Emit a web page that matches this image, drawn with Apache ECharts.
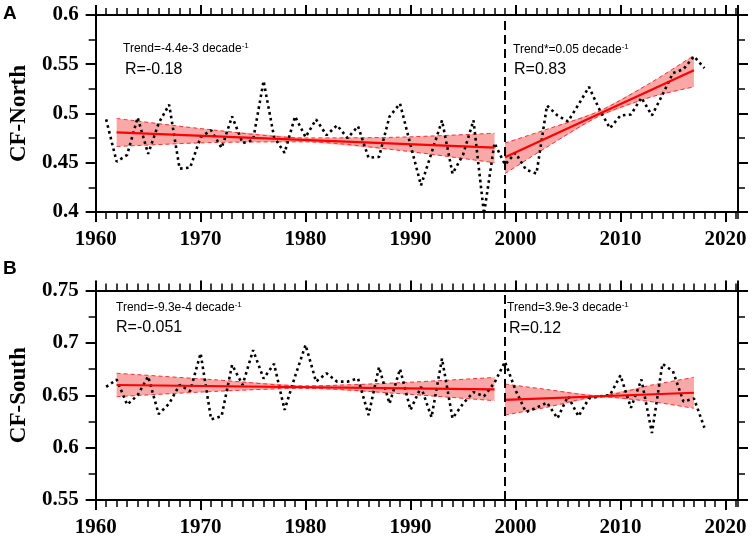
<!DOCTYPE html>
<html>
<head>
<meta charset="utf-8">
<title>CF North / South</title>
<script src="https://cdn.jsdelivr.net/npm/echarts@6.0.0/dist/echarts.min.js"></script>
<style>
	html, body { margin: 0; padding: 0; background: #fff; }
	#chart { width: 754px; height: 538px; }
</style>
</head>
<body>
<div id="chart"></div>
<script>
// --- data ---
const years = [1961, 1962, 1963, 1964, 1965, 1966, 1967, 1968, 1969, 1970,
	1971, 1972, 1973, 1974, 1975, 1976, 1977, 1978, 1979, 1980,
	1981, 1982, 1983, 1984, 1985, 1986, 1987, 1988, 1989, 1990,
	1991, 1992, 1993, 1994, 1995, 1996, 1997, 1998, 1999, 2000,
	2001, 2002, 2003, 2004, 2005, 2006, 2007, 2008, 2009, 2010,
	2011, 2012, 2013, 2014, 2015, 2016, 2017, 2018];

const cfNorth = [0.494, 0.451, 0.458, 0.496, 0.459, 0.490, 0.509, 0.444, 0.445, 0.476,
	0.483, 0.465, 0.497, 0.470, 0.473, 0.533, 0.476, 0.460, 0.497, 0.476,
	0.494, 0.478, 0.488, 0.475, 0.487, 0.455, 0.456, 0.497, 0.510, 0.468,
	0.427, 0.460, 0.493, 0.439, 0.458, 0.493, 0.398, 0.470, 0.448, 0.460,
	0.443, 0.439, 0.508, 0.498, 0.492, 0.509, 0.527, 0.504, 0.485, 0.498,
	0.499, 0.516, 0.498, 0.519, 0.541, 0.545, 0.558, 0.546];

const cfSouth = [0.658, 0.665, 0.641, 0.650, 0.668, 0.632, 0.642, 0.660, 0.654, 0.690,
	0.627, 0.630, 0.679, 0.660, 0.693, 0.666, 0.680, 0.636, 0.668, 0.698,
	0.663, 0.671, 0.663, 0.663, 0.666, 0.631, 0.677, 0.642, 0.675, 0.636,
	0.658, 0.629, 0.685, 0.628, 0.642, 0.653, 0.649, 0.662, 0.682, 0.655,
	0.634, 0.638, 0.643, 0.628, 0.649, 0.630, 0.647, 0.649, 0.650, 0.669,
	0.638, 0.665, 0.614, 0.680, 0.673, 0.644, 0.647, 0.619];

// trend segments: end points of the fitted lines
const trendYears1 = [1962, 1998];
const trendYears2 = [1999, 2017];
const northTrend1 = [0.4809, 0.4653];
const northTrend2 = [0.4555, 0.5440];
const southTrend1 = [0.6598, 0.6557];
const southTrend2 = [0.6455, 0.6524];

// confidence bands, read at a few years along each segment
const bandYears1 = [1962, 1971, 1980, 1989, 1998];
const bandYears2 = [1999, 2003, 2008, 2013, 2017];
const northUpper1 = [0.4950, 0.4835, 0.4752, 0.4760, 0.4800];
const northLower1 = [0.4665, 0.4705, 0.4712, 0.4625, 0.4500];
const northUpper2 = [0.4700, 0.4840, 0.5025, 0.5320, 0.5590];
const northLower2 = [0.4390, 0.4660, 0.4975, 0.5170, 0.5270];
const southUpper1 = [0.6710, 0.6650, 0.6590, 0.6620, 0.6670];
const southLower1 = [0.6486, 0.6535, 0.6566, 0.6515, 0.6448];
const southUpper2 = [0.6607, 0.6555, 0.6495, 0.6598, 0.6671];
const southLower2 = [0.6311, 0.6385, 0.6485, 0.6438, 0.6375];

const breakYear = 1999;

( function() {

	const serif = 'Liberation Serif';
	const sans = 'Liberation Sans';

	const zip = (xs, ys) => xs.map((x, i) => [x, ys[i]]);

	// two axes stacked on the same side: one with yearly short ticks, one with decade ticks + labels
	const xAxes = function(gridIndex, position, labels) {
		const line = { show: true, onZero: false, lineStyle: { color: '#000', width: 2 } };
		return [{
			type: 'value', gridIndex: gridIndex, position: position,
			min: 1960, max: 2021.2, interval: 1,
			axisLine: line,
			axisTick: { show: true, length: 7, lineStyle: { color: '#000', width: 1.5 } },
			axisLabel: { show: false },
			splitLine: { show: false }
		}, {
			type: 'value', gridIndex: gridIndex, position: position,
			min: 1960, max: 2021.2, interval: 10,
			axisLine: line,
			axisTick: { show: true, length: 10, lineStyle: { color: '#000', width: 2 } },
			axisLabel: {
				show: labels, margin: 17, showMaxLabel: false,
				formatter: v => (v % 10 === 0 ? String(v) : ''),
				color: '#000', fontFamily: serif, fontWeight: 'bold', fontSize: 21
			},
			splitLine: { show: false }
		}];
	}

	const yAxis = function(gridIndex, position, min, max, name) {
		return {
			type: 'value', gridIndex: gridIndex, position: position,
			min: min, max: max, interval: 0.05,
			name: name, nameLocation: 'middle', nameGap: 56, nameRotate: 90,
			nameTextStyle: { color: '#000', fontFamily: serif, fontWeight: 'bold', fontSize: 23 },
			axisLine: { show: true, onZero: false, lineStyle: { color: '#000', width: 2 } },
			axisTick: { show: true, length: 10, lineStyle: { color: '#000', width: 2 } },
			minorTick: { show: true, splitNumber: 2, length: 7, lineStyle: { color: '#000', width: 1.5 } },
			axisLabel: {
				show: position === 'left', margin: 17,
				color: '#000', fontFamily: serif, fontWeight: 'bold', fontSize: 21
			},
			splitLine: { show: false }
		};
	}

	// filled band polygon built through the axis scales
	const bandSeries = function(xIndex, yIndex, bx, upper, lower) {
		return {
			type: 'custom', xAxisIndex: xIndex, yAxisIndex: yIndex, z: 1,
			data: zip(bx, upper),
			renderItem: function(params, api) {
				if (params.dataIndex !== 0) return;
				const pts = [];
				bx.forEach((x, i) => pts.push(api.coord([x, upper[i]])));
				for (let i = bx.length - 1; i >= 0; i--) pts.push(api.coord([bx[i], lower[i]]));
				return {
					type: 'polygon',
					shape: { points: pts },
					style: { fill: 'rgba(245, 110, 110, 0.6)' }
				};
			},
			silent: true
		};
	}

	const edgeSeries = function(xIndex, yIndex, bx, vals) {
		return {
			type: 'line', xAxisIndex: xIndex, yAxisIndex: yIndex, z: 2,
			data: zip(bx, vals), smooth: 0.3, showSymbol: false, silent: true,
			lineStyle: { color: '#ff3030', width: 1, type: [4, 3] }
		};
	}

	const trendSeries = function(xIndex, yIndex, tx, vals) {
		return {
			type: 'line', xAxisIndex: xIndex, yAxisIndex: yIndex, z: 4,
			data: zip(tx, vals), showSymbol: false, silent: true,
			lineStyle: { color: '#ff0000', width: 2.2 }
		};
	}

	const dataSeries = function(xIndex, yIndex, vals, withBreak) {
		const s = {
			type: 'line', xAxisIndex: xIndex, yAxisIndex: yIndex, z: 3,
			data: zip(years, vals), showSymbol: false, silent: true,
			lineStyle: { color: '#000', width: 2.6, type: [2.6, 3.4] }
		};
		if (withBreak) {
			s.markLine = {
				silent: true, symbol: 'none', animation: false,
				label: { show: false },
				lineStyle: { color: '#000', width: 2, type: [9, 5] },
				data: [{ xAxis: breakYear }]
			};
		}
		return s;
	}

	const supText = function(x, y, main, sup) {
		return {
			type: 'text', x: x, y: y, z: 10,
			style: {
				text: '{a|' + main + '}{s|' + sup + '}',
				rich: {
					a: { fontFamily: sans, fontSize: 12, lineHeight: 14, color: '#000' },
					s: { fontFamily: sans, fontSize: 8, lineHeight: 14, verticalAlign: 'top', color: '#000' }
				}
			}
		};
	}

	const plainText = function(x, y, text, size, family, weight) {
		return {
			type: 'text', x: x, y: y, z: 10,
			style: { text: text, fontFamily: family || sans, fontSize: size, fontWeight: weight || 'normal', fill: '#000', verticalAlign: 'middle' }
		};
	}

	const setupChart = function(el) {
		const chart = echarts.init(el, null, { renderer: 'canvas' });

		const option = {
			animation: false,
			backgroundColor: '#fff',
			grid: [
				{ left: 85, top: 15, width: 653, height: 197 },
				{ left: 85, top: 290.5, width: 653, height: 209.5 }
			],
			xAxis: [].concat(
				xAxes(0, 'bottom', true),
				xAxes(0, 'top', false),
				xAxes(1, 'bottom', true),
				xAxes(1, 'top', false)
			),
			yAxis: [
				yAxis(0, 'left', 0.4, 0.6, 'CF-North'),
				yAxis(0, 'right', 0.4, 0.6, ''),
				yAxis(1, 'left', 0.55, 0.75, 'CF-South'),
				yAxis(1, 'right', 0.55, 0.75, '')
			],
			series: [
				bandSeries(0, 0, bandYears1, northUpper1, northLower1),
				bandSeries(0, 0, bandYears2, northUpper2, northLower2),
				edgeSeries(0, 0, bandYears1, northUpper1),
				edgeSeries(0, 0, bandYears1, northLower1),
				edgeSeries(0, 0, bandYears2, northUpper2),
				edgeSeries(0, 0, bandYears2, northLower2),
				dataSeries(0, 0, cfNorth, true),
				trendSeries(0, 0, trendYears1, northTrend1),
				trendSeries(0, 0, trendYears2, northTrend2),

				bandSeries(4, 2, bandYears1, southUpper1, southLower1),
				bandSeries(4, 2, bandYears2, southUpper2, southLower2),
				edgeSeries(4, 2, bandYears1, southUpper1),
				edgeSeries(4, 2, bandYears1, southLower1),
				edgeSeries(4, 2, bandYears2, southUpper2),
				edgeSeries(4, 2, bandYears2, southLower2),
				dataSeries(4, 2, cfSouth, true),
				trendSeries(4, 2, trendYears1, southTrend1),
				trendSeries(4, 2, trendYears2, southTrend2)
			],
			graphic: [
				plainText(3, 14, 'A', 19, sans, 'bold'),
				plainText(3, 268.5, 'B', 19, sans, 'bold'),
				supText(123, 42, 'Trend=-4.4e-3 decade', '-1'),
				plainText(125, 70, 'R=-0.18', 16),
				supText(513, 43, 'Trend*=0.05 decade', '-1'),
				plainText(514, 70, 'R=0.83', 16),
				supText(116, 301, 'Trend=-9.3e-4 decade', '-1'),
				plainText(116, 328, 'R=-0.051', 16),
				supText(507, 301, 'Trend=3.9e-3 decade', '-1'),
				plainText(509, 328.5, 'R=0.12', 16)
			]
		};

		chart.setOption(option);
	}

	document.addEventListener('DOMContentLoaded', function() {
		setupChart(document.getElementById('chart'));
	});

}() );
</script>
</body>
</html>
